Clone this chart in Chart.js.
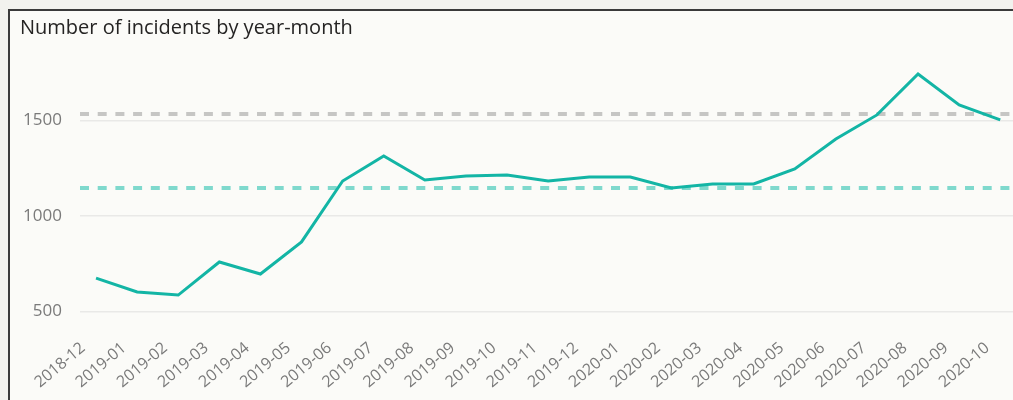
<!DOCTYPE html>
<html>
<head>
<meta charset="utf-8">
<script src="https://cdn.jsdelivr.net/npm/chart.js@4/dist/chart.umd.min.js"></script>
<style>
  html, body { margin: 0; padding: 0; background: #f2f2ee; overflow: hidden; }
  #frame {
    position: absolute; left: 8px; top: 9px; width: 1020px; height: 400px;
    border-left: 2px solid #3a3a3a; border-top: 2px solid #3a3a3a;
    background: #fbfbf8;
  }
  #box { position: absolute; left: 0; top: 0; width: 1003px; height: 389px; }
</style>
</head>
<body>
<div id="frame"><div id="box"><canvas id="graph"></canvas></div></div>
<script>
'use strict'

let months = ['2018-12', '2019-01', '2019-02', '2019-03', '2019-04', '2019-05', '2019-06', '2019-07', '2019-08', '2019-09', '2019-10', '2019-11', '2019-12', '2020-01', '2020-02', '2020-03', '2020-04', '2020-05', '2020-06', '2020-07', '2020-08', '2020-09', '2020-10'];
let incidents = [675, 602, 586, 759, 696, 864, 1183, 1314, 1188, 1209, 1215, 1183, 1204, 1204, 1147, 1168, 1168, 1246, 1403, 1529, 1743, 1581, 1503];
let refHigh = 1534;
let refLow = 1147;
let yTicks = [500, 1000, 1500];

let xMin = -0.39;
let xMax = 22.31;

let points = incidents.map((v, i) => ({ x: i, y: v }));

new Chart('graph', {
    type: 'line',
    data: {
        datasets: [{
            data: points,
            borderColor: '#13b5a5',
            borderWidth: 3,
            pointRadius: 0,
            tension: 0,
            order: 1
        }, {
            data: [{ x: xMin, y: refHigh }, { x: xMax, y: refHigh }],
            borderColor: '#c6c6c4',
            borderWidth: 4,
            borderDash: [9, 8.7],
            pointRadius: 0,
            order: 2
        }, {
            data: [{ x: xMin, y: refLow }, { x: xMax, y: refLow }],
            borderColor: '#7fd9cd',
            borderWidth: 4,
            borderDash: [9, 8.7],
            pointRadius: 0,
            order: 2
        }]
    },
    options: {
        responsive: true,
        maintainAspectRatio: false,
        animation: false,
        layout: { padding: { top: 0, right: 0, left: 10, bottom: 0 } },
        plugins: {
            legend: { display: false },
            tooltip: { enabled: false },
            title: {
                display: true,
                text: 'Number of incidents by year-month',
                align: 'start',
                color: '#252423',
                font: { family: 'Open Sans', size: 20, weight: 'normal', lineHeight: 1.2 },
                padding: { top: 5, bottom: 13.6 }
            }
        },
        scales: {
            x: {
                type: 'linear',
                min: xMin,
                max: xMax,
                grid: { display: false },
                border: { display: false },
                afterBuildTicks: (scale) => {
                    scale.ticks = months.map((m, i) => ({ value: i }));
                },
                afterFit: (scale) => { scale.height = 69.4; },
                ticks: {
                    autoSkip: false,
                    maxRotation: 40,
                    minRotation: 40,
                    color: '#7a7a7a',
                    font: { family: 'Open Sans', size: 16 },
                    padding: 0,
                    labelOffset: -13,
                    callback: (v) => months[v]
                }
            },
            y: {
                min: 400,
                max: 1850,
                grid: { color: '#e9e9e7', lineWidth: 1.5, drawTicks: false },
                border: { display: false },
                afterBuildTicks: (scale) => {
                    scale.ticks = yTicks.map(v => ({ value: v }));
                },
                afterFit: (scale) => { scale.width = 60; },
                ticks: {
                    color: '#7a7a7a',
                    font: { family: 'Open Sans', size: 17 },
                    padding: 18,
                    callback: (v) => String(v)
                }
            }
        }
    }
});
</script>
</body>
</html>
